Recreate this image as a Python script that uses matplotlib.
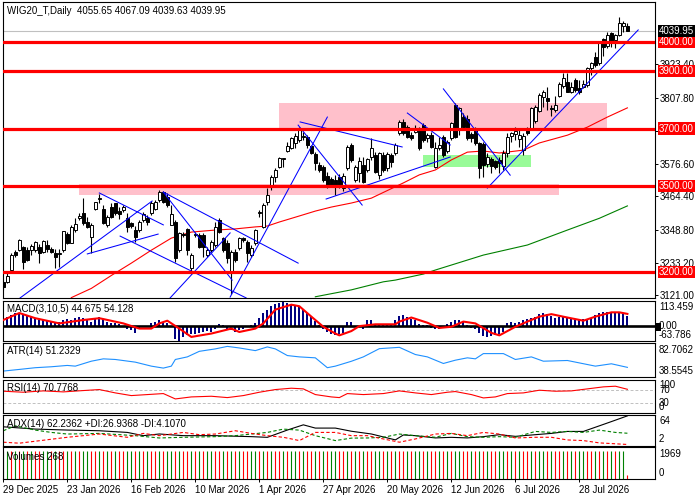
import matplotlib
matplotlib.use("Agg")
import matplotlib.pyplot as plt
from matplotlib.patches import Rectangle

plt.rcParams['font.family'] = ['Liberation Sans', 'DejaVu Sans']
plt.rcParams['font.size'] = 7

symbol = "WIG20_T,Daily"

# daily candles (bar 0 = 29 Dec 2025)
opens = [3167, 3168, 3208, 3272, 3278, 3287, 3278, 3278, 3278, 3287,
         3272, 3295, 3280, 3268, 3262, 3278, 3333, 3303, 3347, 3388,
         3405, 3376, 3324, 3419, 3454, 3419, 3365, 3428, 3440, 3413,
         3417, 3388, 3370, 3347, 3347, 3382, 3388, 3405, 3419, 3452,
         3481, 3463, 3365, 3376, 3278, 3334, 3349, 3214, 3330, 3330,
         3330, 3260, 3278, 3295, 3382, 3318, 3301, 3199, 3272, 3283,
         3318, 3307, 3260, 3301, 3405, 3359, 3445, 3504, 3530, 3565,
         3594, 3623, 3631, 3649, 3660, 3672, 3672, 3639, 3611, 3573,
         3565, 3535, 3524, 3521, 3533, 3492, 3562, 3643, 3521, 3544,
         3573, 3556, 3602, 3608, 3538, 3608, 3562, 3608, 3614, 3683,
         3724, 3707, 3678, 3689, 3695, 3712, 3666, 3678, 3567, 3634,
         3672, 3622, 3666, 3782, 3695, 3741, 3735, 3680, 3701, 3649,
         3648, 3577, 3593, 3588, 3591, 3570, 3614, 3674, 3681, 3662,
         3625, 3697, 3701, 3727, 3762, 3811, 3805, 3770, 3764, 3815,
         3848, 3863, 3828, 3869, 3840, 3846, 3851, 3909, 3950, 3927,
         4010, 3987, 4033, 4008, 4025, 4057, 4055.65]
highs = [3175, 3202, 3266, 3278, 3315, 3292, 3287, 3298, 3309, 3298,
         3312, 3312, 3287, 3280, 3280, 3345, 3341, 3365, 3388, 3405,
         3457, 3394, 3370, 3446, 3472, 3434, 3400, 3440, 3442, 3428,
         3434, 3405, 3376, 3361, 3382, 3411, 3400, 3449, 3452, 3486,
         3484, 3475, 3434, 3382, 3341, 3341, 3353, 3266, 3341, 3336,
         3336, 3289, 3312, 3376, 3388, 3324, 3312, 3278, 3280, 3324,
         3324, 3312, 3295, 3349, 3417, 3440, 3492, 3538, 3562, 3602,
         3599, 3654, 3672, 3683, 3707, 3689, 3678, 3643, 3620, 3585,
         3573, 3550, 3533, 3538, 3541, 3544, 3643, 3649, 3573, 3602,
         3602, 3599, 3666, 3620, 3620, 3620, 3620, 3614, 3649, 3730,
         3735, 3712, 3689, 3712, 3707, 3718, 3683, 3689, 3654, 3672,
         3678, 3660, 3724, 3788, 3776, 3753, 3747, 3689, 3707, 3654,
         3654, 3614, 3602, 3591, 3602, 3625, 3683, 3689, 3706, 3701,
         3683, 3706, 3776, 3782, 3822, 3834, 3843, 3782, 3813, 3863,
         3894, 3892, 3863, 3875, 3869, 3869, 3915, 3933, 3967, 4002,
         4014, 4037, 4037, 4029, 4089, 4075, 4067.09]
lows = [3140, 3162, 3202, 3255, 3275, 3210, 3240, 3260, 3272, 3231,
        3268, 3272, 3266, 3214, 3220, 3272, 3298, 3301, 3341, 3382,
        3365, 3353, 3266, 3417, 3440, 3368, 3359, 3388, 3400, 3384,
        3411, 3341, 3353, 3307, 3341, 3376, 3365, 3400, 3417, 3446,
        3440, 3428, 3365, 3237, 3272, 3324, 3260, 3195, 3324, 3283,
        3254, 3254, 3272, 3289, 3336, 3272, 3231, 3125, 3237, 3278,
        3307, 3237, 3254, 3295, 3394, 3355, 3434, 3486, 3515, 3562,
        3567, 3620, 3628, 3631, 3654, 3660, 3631, 3611, 3556, 3550,
        3515, 3492, 3498, 3469, 3492, 3483, 3556, 3585, 3515, 3515,
        3509, 3550, 3591, 3544, 3524, 3548, 3552, 3568, 3608, 3678,
        3678, 3666, 3660, 3683, 3625, 3654, 3654, 3631, 3562, 3625,
        3602, 3614, 3660, 3666, 3678, 3701, 3660, 3654, 3643, 3527,
        3532, 3567, 3544, 3558, 3544, 3556, 3602, 3654, 3660, 3637,
        3608, 3677, 3695, 3718, 3759, 3776, 3764, 3744, 3759, 3811,
        3840, 3828, 3822, 3828, 3820, 3840, 3846, 3886, 3915, 3921,
        3952, 3979, 3985, 3979, 4022, 4037, 4039.63]
closes = [3150, 3187, 3260, 3260, 3312, 3237, 3243, 3292, 3306, 3268,
          3309, 3281, 3272, 3255, 3268, 3343, 3301, 3357, 3368, 3396,
          3370, 3359, 3365, 3443, 3458, 3370, 3394, 3394, 3405, 3402,
          3426, 3359, 3361, 3324, 3376, 3402, 3376, 3440, 3443, 3481,
          3446, 3434, 3403, 3249, 3336, 3331, 3278, 3260, 3334, 3289,
          3289, 3278, 3307, 3359, 3341, 3278, 3249, 3269, 3243, 3318,
          3313, 3266, 3283, 3347, 3409, 3434, 3470, 3533, 3556, 3596,
          3598, 3639, 3666, 3675, 3703, 3675, 3643, 3614, 3579, 3556,
          3521, 3498, 3504, 3498, 3504, 3536, 3637, 3591, 3567, 3587,
          3515, 3594, 3631, 3550, 3614, 3556, 3610, 3585, 3643, 3724,
          3683, 3672, 3666, 3703, 3631, 3660, 3678, 3637, 3631, 3643,
          3608, 3652, 3718, 3672, 3770, 3707, 3666, 3668, 3649, 3562,
          3573, 3602, 3570, 3565, 3581, 3616, 3669, 3683, 3693, 3677,
          3674, 3686, 3770, 3774, 3817, 3828, 3797, 3767, 3782, 3855,
          3875, 3828, 3843, 3834, 3828, 3855, 3909, 3927, 3921, 3999,
          3985, 4025, 3996, 4025, 4066, 4066, 4039.95]

date_labels = ["29 Dec 2025", "23 Jan 2026", "16 Feb 2026", "10 Mar 2026", "1 Apr 2026",
               "27 Apr 2026", "20 May 2026", "12 Jun 2026", "6 Jul 2026", "28 Jul 2026"]
label_step = 16

price_ticks = [3121.00, 3233.20, 3348.80, 3464.40, 3576.60, 3692.20, 3807.80, 3923.40]
levels = [4000, 3900, 3700, 3500, 3200]

# moving averages (bar, value)
red_ma_bars = [17, 22, 27, 32, 37, 42, 47, 53, 58, 63, 66, 69, 74, 78, 82, 87, 92, 100,
               104, 108, 112, 116, 120, 124, 130, 134, 141, 146, 151, 156]
red_ma_vals = [3112, 3144, 3189, 3232, 3277, 3319, 3340, 3347, 3351, 3358, 3361, 3375, 3396,
               3413, 3427, 3441, 3458, 3511, 3539, 3556, 3591, 3618, 3622, 3615, 3625, 3650,
               3677, 3705, 3740, 3772]
green_ma_bars = [78, 87, 95, 98, 105, 108, 120, 131, 141, 149, 156]
green_ma_vals = [3115, 3139, 3167, 3173, 3194, 3208, 3260, 3295, 3347, 3388, 3431]

# zones: first bar, last bar, low, high
pink_zones = [(69, 151, 3697, 3788), (19, 139, 3469, 3506)]
green_zones = [(105, 132, 3567, 3609)]

# trend lines: (bar, price) -> (bar, price)
trend_lines = [((4.2, 3111), (37.2, 3448)), ((24, 3476), (40, 3365)),
               ((21, 3264), (38.7, 3333)), ((29.2, 3326), (60.7, 3111)),
               ((40, 3479), (73.7, 3232)), ((40, 3479), (57.2, 3173)),
               ((41.7, 3111), (56.7, 3337)), ((56.7, 3114), (81, 3740)),
               ((74.2, 3723), (99.7, 3636)), ((73.7, 3712), (89.7, 3434)),
               ((101, 3754), (111.7, 3643)), ((110, 3838), (126.7, 3538)),
               ((121, 3493), (158.7, 4043)), ((80.7, 3455), (111.7, 3601))]

# MACD(3,10,5)
macd_hist = [38, 42, 50, 58, 55, 50, 45, 42, 35, 27,
             27, 24, 20, 15, 20, 27, 30, 27, 35, 42,
             35, 27, 20, 35, 42, 30, 20, 15, 12, 8,
             2, -11, -18, -30, -15, -6, -3, 15, 20, 27,
             20, 12, -2, -56, -63.786, -48, -41, -36, -33, -30,
             -26, -21, -26, -11, 9, 5, -11, -18, -26, -18,
             -11, -6, 5, 15, 35, 58, 73, 88, 100, 103,
             113.459, 103, 95, 91, 88, 76, 58, 42, 24, 5,
             -15, -26, -36, -41, -36, -30, 20, 20, -5, -3,
             -11, 27, 27, 10, 8, 8, 10, 8, 25, 45,
             50, 40, 30, 25, 10, 6, 5, -8, -14, -12,
             -10, 10, 20, 27, 25, 20, 5, -8, -12, -30,
             -45, -48, -45, -40, -35, -25, 15, 18, 15, 20,
             25, 30, 35, 40, 55, 60, 55, 45, 35, 40,
             45, 38, 30, 28, 25, 30, 32, 38, 50, 58,
             62, 64, 62, 60, 58, 52, 44.675]
signal_bars = [0, 4, 8, 14, 20, 24, 30, 34, 37, 39, 41, 44, 47, 52, 57, 59, 63, 65, 68, 72,
               74, 77, 80, 83, 84, 87, 89, 93, 98, 99, 102, 106, 109, 112, 115, 118, 122,
               124, 128, 131, 134, 137, 141, 145, 148, 152, 154, 156]
signal_vals = [27, 58, 35, 12, 27, 35, 12, -11, -11, 12, 24, -11, -48, -33, -11, -26, -11,
               12, 73, 95, 88, 42, -3, -33, -41, -22, 0, 8, 8, 20, 38, 15, -8, -3, 20, 12,
               -30, -41, -3, 20, 42, 53, 38, 24, 42, 61, 61, 54.128]

# ATR(14)
atr_bars = [0, 4, 8, 12, 16, 18, 22, 25, 28, 33, 37, 40, 42, 43, 46, 49, 53, 56, 59, 63,
            66, 68, 71, 74, 78, 81, 83, 87, 90, 94, 99, 103, 106, 110, 113, 116, 118, 120,
            125, 128, 132, 135, 141, 148, 152, 156]
atr_vals = [46.5, 48.6, 50.8, 52.0, 53.7, 52.8, 59.1, 62.1, 61.3, 57.9, 52.8, 50.3, 52.8,
            61.3, 64.6, 71.7, 74.8, 78.0, 76.0, 72.6, 77.3, 74.8, 66.3, 64.6, 63.4, 50.8,
            52.8, 59.0, 64.6, 75.1, 76.8, 67.6, 64.6, 56.2, 60.4, 63.4, 62.1, 68.8, 68.8,
            61.3, 64.6, 59.1, 60.0, 52.8, 55.8, 51.2329]

# RSI(14)
rsi_bars = [0, 5, 10, 15, 20, 24, 28, 32, 36, 40, 43, 47, 52, 56, 60, 64, 68, 72, 75, 78,
            82, 84, 86, 90, 95, 99, 103, 107, 111, 113, 117, 120, 123, 126, 130, 134, 138,
            142, 146, 150, 153, 156]
rsi_vals = [65, 62, 66, 63, 67, 70, 60, 52, 55, 58, 42, 48, 50, 46, 52, 62, 70, 74, 72, 55,
            48, 46, 58, 55, 58, 66, 60, 55, 62, 64, 55, 45, 48, 58, 60, 68, 65, 66, 72, 78,
            80, 70.7768]

# ADX(14) with +DI / -DI
adx_bars = [0, 8, 16, 24, 31, 35, 39, 45, 53, 62, 66, 71, 75, 78, 83, 87, 92, 98, 100, 103,
            108, 112, 116, 120, 124, 128, 133, 137, 141, 145, 149, 152, 156]
adx_vals = [40, 35.4, 33.4, 32, 28.6, 22, 25.4, 22, 22, 20, 18.6, 33.4, 44, 37.4, 37.4,
            31, 25.4, 13.4, 23.4, 22, 17.4, 18.6, 17.4, 20, 24, 20.6, 24, 26.6, 30.6, 30.6,
            42, 50.6, 62.2362]
pdi_bars = [0, 3, 8, 12, 16, 24, 33, 39, 45, 53, 58, 66, 70, 74, 78, 83, 87, 91, 95, 99,
            103, 108, 112, 116, 120, 124, 128, 133, 137, 141, 145, 149, 153, 156]
pdi_vals = [32, 42, 33.3, 28.6, 25.3, 26.6, 22, 17.3, 18.7, 20, 22, 28.6, 35.3, 33.3, 22,
            12, 17, 17.3, 18.7, 25.3, 22, 18.7, 26.6, 20, 18.7, 20, 18.7, 30.6, 28.6, 30.6,
            28.6, 33.3, 28.6, 26.9368]
mdi_bars = [0, 4, 8, 16, 24, 31, 35, 39, 45, 49, 53, 58, 62, 66, 70, 74, 78, 83, 87, 91,
            95, 99, 103, 108, 112, 116, 120, 124, 128, 133, 137, 141, 145, 149, 156]
mdi_vals = [8.7, 6.7, 10.7, 18.7, 25.3, 18.7, 26.6, 22, 28.6, 24, 25.3, 32, 26.6, 22, 18.7,
            12, 28.6, 28.6, 22, 22, 15.3, 8.7, 15.3, 25.3, 26.6, 22, 28.6, 25.3, 17.3, 18.7,
            18.7, 13.3, 12, 7.3, 4.107]

# Volumes: G = up bar (green), R = down bar (red)
volumes = [1969] * 156 + [268]
vol_dir = ("GGRGRGRGRR" "GGRGRRGRGR" "GGRRGRGRGR" "RGGRGRGRRG" "RGGRGRRGRG"
           "RGGRRGRGRG" "RRGGRGRGRR" "GRGGRGRRGR" "GRGGRRGRGR" "GRRGGRGRGR"
           "RGRGGRGRRG" "RGRGGRRGRG" "RGRRGGRGRG" "RRGRGGRGRR" "GRGRGGRRGR"
           "GRGRGGR")

n = len(closes)
assert len(opens) == len(highs) == len(lows) == n == len(macd_hist) == len(vol_dir)
xs = list(range(n))

W, H = 700.0, 500.0
LEFT, RIGHT = 2.7, 655.0
fig = plt.figure(figsize=(7, 5), dpi=100)


def panel(top, bottom):
    a = fig.add_axes([LEFT / W, 1 - bottom / H, (RIGHT - LEFT) / W, (bottom - top) / H])
    a.set_xlim(-0.15, 162.9)
    a.set_xticks([])
    a.set_yticks([])
    for s in a.spines.values():
        s.set_linewidth(0.8)
    return a


def side_label(a, y, text, fc=None, color='black', va='center', dy=0):
    kw = {}
    if fc:
        kw['bbox'] = dict(boxstyle='square,pad=0.12', fc=fc, ec='none')
    a.annotate(text, xy=(1, y), xycoords=('axes fraction', 'data'), xytext=(4, dy),
               textcoords='offset pixels', ha='left', va=va, color=color, fontsize=7,
               annotation_clip=False, zorder=10, **kw)


def caption(y, text):
    fig.text(7 / W, 1 - y / H, text, ha='left', va='center', fontsize=7)


# ---- price window ----
ax = panel(2, 298)
ax.set_ylim(3110.7, 4140.2)
for b0, b1, lo, hi in pink_zones:
    ax.add_patch(Rectangle((b0, lo), b1 - b0, hi - lo, fc='#FFC0CB', ec='none', zorder=0))
for b0, b1, lo, hi in green_zones:
    ax.add_patch(Rectangle((b0, lo), b1 - b0, hi - lo, fc='#98FB98', ec='none', zorder=0))
ax.axhline(closes[-1], color='#C0C0C0', lw=0.8, zorder=0.5)
ax.plot(red_ma_bars, red_ma_vals, color='red', lw=0.8, zorder=1)
ax.plot(green_ma_bars, green_ma_vals, color='green', lw=0.8, zorder=1)

ax.vlines(xs, lows, highs, color='black', lw=0.8, zorder=2)
body_lo = [min(o, c) for o, c in zip(opens, closes)]
body_h = [max(abs(c - o), 0.5) for o, c in zip(opens, closes)]
fills = ['white' if c >= o else 'black' for o, c in zip(opens, closes)]
ax.bar(xs, body_h, bottom=body_lo, width=0.62, color=fills, edgecolor='black',
       linewidth=0.7, zorder=3)

for (b0, p0), (b1, p1) in trend_lines:
    ax.plot([b0, b1], [p0, p1], color='blue', lw=0.75, zorder=4)
for lv in levels:
    ax.axhline(lv, color='red', lw=2.3, zorder=5)

ax.yaxis.tick_right()
ax.set_yticks(price_ticks)
ax.set_yticklabels([f'{v:.2f}' for v in price_ticks])
ax.tick_params(axis='y', direction='out', length=2.5, width=0.7, pad=1.2, labelsize=7)
for lv in levels:
    side_label(ax, lv, f'{lv:.2f}', fc='red', color='white')
side_label(ax, closes[-1], f'{closes[-1]:.2f}', fc='black', color='white')
caption(10.5, f'{symbol}  {opens[-1]:.2f} {highs[-1]:.2f} {lows[-1]:.2f} {closes[-1]:.2f}')

# ---- MACD ----
am = panel(300.5, 340.5)
am.set_ylim(-63.786, 113.459)
am.bar(xs, macd_hist, width=0.55, color='#000080', zorder=1)
am.axhline(0, color='black', lw=1.9, zorder=2)
am.plot(signal_bars, signal_vals, color='red', lw=1.5, zorder=3)
side_label(am, 113.459, '113.459', va='top', dy=-2)
side_label(am, -63.786, '-63.786', va='bottom', dy=1)
fig.patches.append(Rectangle((656 / W, 1 - 330.5 / H), 5 / W, 8 / H, transform=fig.transFigure,
                             fc='black', ec='none'))
side_label(am, 0, '0.00')
caption(309, f'MACD(3,10,5) {macd_hist[-1]:.3f} {signal_vals[-1]:.3f}')

# ---- ATR ----
aa = panel(342.7, 377.3)
aa.set_ylim(38.5545, 82.7062)
aa.plot(atr_bars, atr_vals, color='#1E90FF', lw=0.8)
side_label(aa, 82.7062, '82.7062', va='top', dy=-2)
side_label(aa, 38.5545, '38.5545', va='bottom', dy=1)
caption(351.5, f'ATR(14) {atr_vals[-1]:.4f}')

# ---- RSI ----
ar = panel(379.5, 413)
ar.set_ylim(0, 100)
for lv in (70, 30):
    ar.axhline(lv, color='#C0C0C0', lw=0.7, ls=(0, (3, 2)))
ar.plot(rsi_bars, rsi_vals, color='red', lw=0.8)
side_label(ar, 100, '100', va='top', dy=-1)
side_label(ar, 70, '70')
side_label(ar, 30, '30')
side_label(ar, 0, '0', va='bottom', dy=1)
caption(388, f'RSI(14) {rsi_vals[-1]:.4f}')

# ---- ADX ----
ad = panel(415, 445.5)
ad.set_ylim(2, 64)
ad.plot(adx_bars, adx_vals, color='black', lw=0.8)
ad.plot(pdi_bars, pdi_vals, color='green', lw=0.8, ls=(0, (3, 2)))
ad.plot(mdi_bars, mdi_vals, color='red', lw=0.8, ls=(0, (3, 2)))
side_label(ad, 64, '64', va='top', dy=-1)
side_label(ad, 2, '2', va='bottom', dy=1)
caption(424, f'ADX(14) {adx_vals[-1]:.4f} +DI:{pdi_vals[-1]:.4f} -DI:{mdi_vals[-1]:.4f}')

# ---- Volumes ----
av = panel(447.3, 479)
av.set_ylim(0, 1969 * 1.12)
vcolors = ['#008000' if d == 'G' else 'red' for d in vol_dir]
av.vlines(xs, 0, volumes, colors=vcolors, lw=0.8)
side_label(av, 1969 * 1.12, f'{max(volumes)}', va='top', dy=-2)
side_label(av, 0, '0', va='bottom', dy=1)
caption(456.5, f'Volumes {volumes[-1]}')

av.set_xticks([i * label_step for i in range(len(date_labels))])
av.set_xticklabels(date_labels)
av.tick_params(axis='x', direction='out', length=2.5, width=0.7, pad=1.5, labelsize=7)
for t in av.get_xticklabels():
    t.set_ha('left')

fig.savefig('out.png', dpi=100)
